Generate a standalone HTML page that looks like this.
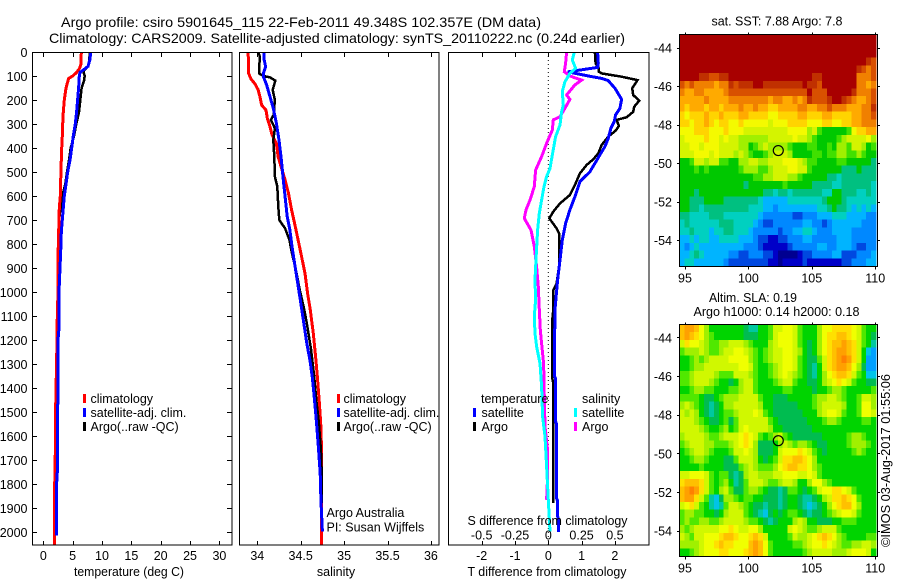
<!DOCTYPE html>
<html>
<head>
<meta charset="utf-8">
<title>Argo profile</title>
<style>
html,body{margin:0;padding:0;background:#fff;}
svg{display:block;}
text{font-family:"Liberation Sans",sans-serif;font-size:12.5px;fill:#000;}
.t14{font-size:14px;}
</style>
</head>
<body>
<svg id="chart" xmlns="http://www.w3.org/2000/svg" width="900" height="580" viewBox="0 0 900 580">
<rect x="0" y="0" width="900" height="580" fill="#fff"/>
<defs>
<clipPath id="clipT"><rect x="32" y="52" width="200" height="493"/></clipPath>
<clipPath id="clipS"><rect x="239" y="52" width="200" height="493"/></clipPath>
<clipPath id="clipD"><rect x="449" y="52" width="200" height="493"/></clipPath>
</defs>
<g id="heat"></g>
<g id="marks"></g>
<g id="axes"></g>
<text class="t14" x="61" y="27" textLength="480" lengthAdjust="spacingAndGlyphs">Argo profile: csiro 5901645_115 22-Feb-2011 49.348S 102.357E (DM data)</text>
<text class="t14" x="49" y="43" textLength="576" lengthAdjust="spacingAndGlyphs">Climatology: CARS2009. Satellite-adjusted climatology: synTS_20110222.nc (0.24d earlier)</text>
<text x="74" y="576" textLength="110" lengthAdjust="spacingAndGlyphs">temperature (deg C)</text>
<text x="336" y="576" text-anchor="middle">salinity</text>
<text x="467.5" y="576" textLength="159" lengthAdjust="spacingAndGlyphs">T difference from climatology</text>
<text x="467.5" y="525" textLength="160" lengthAdjust="spacingAndGlyphs">S difference from climatology</text>

<g>
<rect x="83" y="394" width="3" height="9" fill="#f00"/>
<text x="90.5" y="403">climatology</text>
<rect x="83" y="408" width="3" height="9" fill="#00f"/>
<text x="90.5" y="417">satellite-adj. clim.</text>
<rect x="83" y="422" width="3" height="9" fill="#000"/>
<text x="90.5" y="431">Argo(..raw -QC)</text>
</g>
<g>
<rect x="337" y="394" width="3" height="9" fill="#f00"/>
<text x="343.5" y="403">climatology</text>
<rect x="337" y="408" width="3" height="9" fill="#00f"/>
<text x="343.5" y="417">satellite-adj. clim.</text>
<rect x="337" y="422" width="3" height="9" fill="#000"/>
<text x="343.5" y="431">Argo(..raw -QC)</text>
<text x="326.5" y="517">Argo Australia</text>
<text x="326.5" y="531.5">PI: Susan Wijffels</text>
</g>
<g>
<text x="481" y="403">temperature</text>
<rect x="473" y="408" width="3" height="9" fill="#00f"/>
<text x="481.5" y="417">satellite</text>
<rect x="473" y="422" width="3" height="9" fill="#000"/>
<text x="481.5" y="431">Argo</text>
<text x="582" y="403">salinity</text>
<rect x="574" y="408" width="3" height="9" fill="#0ff"/>
<text x="582" y="417">satellite</text>
<rect x="574" y="422" width="3" height="9" fill="#f0f"/>
<text x="582" y="431">Argo</text>
</g>
<text x="711.5" y="25.5" textLength="131" lengthAdjust="spacingAndGlyphs">sat. SST: 7.88 Argo: 7.8</text>
<text x="709" y="302" textLength="88" lengthAdjust="spacingAndGlyphs">Altim. SLA: 0.19</text>
<text x="693.5" y="316" textLength="166" lengthAdjust="spacingAndGlyphs">Argo h1000: 0.14 h2000: 0.18</text>
<text transform="translate(890,547) rotate(-90)" textLength="173" lengthAdjust="spacingAndGlyphs">©IMOS 03-Aug-2017 01:55:06</text>
</svg>
<script>
// ---- axis tick labels ----
const depthTicks = [0,100,200,300,400,500,600,700,800,900,1000,1100,1200,1300,1400,1500,1600,1700,1800,1900,2000];
const tempTicks = [0,5,10,15,20,25,30];
const salTicks = [34,34.5,35,35.5,36];
const tDiffTicks = [-2,-1,0,1,2];
const tDiffLabels = ['-2','-1','0','1','2'];
const sDiffLabels = ['-0.5','-0.25','0','0.25','0.5'];
const sDiffTicks = [-0.5,-0.25,0,0.25,0.5];
const lonTicks = [95,100,105,110];
const latTicks = [-44,-46,-48,-50,-52,-54];
const floatLon = [102.357];
const floatLat = [-49.348];

// ---- temperature profiles ----
const tempClimDepth = [0,50,70,85,100,110,130,150,200,250,300,350,400,500,600,650,700,800,900,1000,1100,1300,1400,1500,1650,1700,1850,2060];
const tempClimValues = [6.48,6.42,6.14,5.68,5.0,4.32,4.09,3.86,3.58,3.41,3.3,3.24,3.13,3.0,2.9,2.73,2.67,2.56,2.5,2.5,2.39,2.27,2.16,2.1,2.1,1.99,1.93,1.88];
const tempSatDepth = [0,30,60,75,85,100,150,200,250,300,350,400,450,500,550,600,650,700,750,800,900,1000,1150,1200,1450,1500,1750,1800,2015];
const tempSatValues = [8.07,7.95,7.61,6.82,6.25,6.14,6.02,5.85,5.68,5.45,5.11,4.83,4.55,4.15,3.86,3.58,3.41,3.24,3.07,3.01,2.84,2.67,2.67,2.5,2.5,2.39,2.39,2.27,2.27];
const tempArgoDepth = [0,40,60,80,100,120,150,200,250,300,350,400,450,500,550,600,650,700,725,800,900,1000,1100,1300,1400,1500,1800,1850,1880];
const tempArgoValues = [7.9,7.84,7.56,6.82,7.05,6.93,6.53,6.31,6.08,5.63,5.23,4.66,4.38,4.03,3.75,3.24,2.95,2.67,2.84,2.67,2.56,2.5,2.39,2.27,2.22,2.1,2.0,1.86,1.86];

// ---- salinity profiles ----
const salClimDepth = [0,33,89,114,131,158,186,221,242,276,304,346,381,436,485,533,589,658,714,783,853,922,1006,1072,1172,1283,1366,1464,1561,1658,2054];
const salClimValues = [33.89,33.9,33.9,33.93,33.97,34.01,34.03,34.05,34.1,34.115,34.14,34.17,34.22,34.24,34.28,34.32,34.36,34.395,34.43,34.47,34.51,34.55,34.58,34.61,34.645,34.675,34.695,34.715,34.733,34.74,34.74];
const salSatDepth = [0,33,61,89,103,137,186,235,297,367,436,533,603,686,742,811,881,950,1019,1116,1214,1283,1352,1436,1519,1630,1755,1866,1998];
const salSatValues = [34.08,34.08,34.096,34.07,34.07,34.107,34.146,34.184,34.22,34.25,34.273,34.3,34.32,34.345,34.376,34.4,34.43,34.46,34.49,34.53,34.57,34.606,34.633,34.656,34.676,34.7,34.725,34.733,34.75];
const salArgoDepth = [0,19,75,89,100,106,119,158,200,262,283,318,367,436,519,561,644,700,735,783,839,908,992,1072,1130,1241,1352,1450,1547,1658,1727,1880];
const salArgoValues = [34.01,34.03,34.02,34.02,34.07,34.146,34.207,34.177,34.203,34.188,34.157,34.203,34.184,34.196,34.203,34.23,34.242,34.253,34.32,34.37,34.4,34.445,34.49,34.54,34.57,34.62,34.656,34.68,34.71,34.733,34.74,34.74];

// ---- difference profiles ----
const dTSatDepth = [0,47,64,72,83,90,100,110,119,151,197,235,262,290,318,360,394,436,499,540,603,658,714,783,867,950,1072,1150,1160,1350,1360,1540,1550,1860,1870,1935,1945,2000];
const dTSatValues = [1.48,1.5,1.48,1.1,0.58,0.85,1.2,1.6,1.8,2.0,2.2,2.15,2.02,1.98,1.88,1.8,1.7,1.52,1.25,0.95,0.8,0.65,0.52,0.42,0.35,0.28,0.2,0.2,0.18,0.18,0.22,0.22,0.25,0.25,0.28,0.28,0.3,0.3];
const dTArgoDepth = [0,47,68,82,89,103,117,151,179,203,228,249,272,283,308,328,353,388,422,447,471,506,554,596,631,665,693,735,756,894,964,992,1072,1115,1360,1380,1880];
const dTArgoValues = [1.4,1.42,1.52,1.52,1.6,2.2,2.68,2.52,2.55,2.73,2.58,2.55,2.35,2.05,2.12,2.02,1.8,1.6,1.5,1.35,1.15,0.95,0.8,0.65,0.35,0.15,0.03,0.25,0.32,0.32,0.25,0.15,0.15,0.12,0.12,0.15,0.15];
const dSSatDepth = [0,33,68,89,124,165,221,249,304,353,429,485,519,561,617,672,742,839,950,1033,1102,1172,1227,1297,1394,1519,1602,1727,1866,1998];
const dSSatValues = [0.195,0.18,0.205,0.1625,0.125,0.105,0.1125,0.1,0.0875,0.055,0.03,0.0125,-0.0125,-0.0325,-0.05,-0.0675,-0.08,-0.09,-0.1,-0.095,-0.105,-0.1,-0.0875,-0.0625,-0.05,-0.0425,-0.025,-0.0125,0,0.0125];
const dSArgoDepth = [0,47,82,100,117,137,179,197,235,269,283,325,381,436,492,561,617,658,693,742,811,894,978,1072,1158,1214,1297,1436,1561,1658,1769,1866];
const dSArgoValues = [0.1375,0.13,0.12,0.1625,0.25,0.2,0.1375,0.1625,0.125,0.0875,0.0375,0.03,-0.0125,-0.05,-0.095,-0.105,-0.1375,-0.1675,-0.18,-0.13,-0.105,-0.0875,-0.075,-0.0675,-0.06,-0.05,-0.035,-0.03,-0.025,-0.005,-0.005,-0.0125];

// ---- map colour classes (index = base-36 digit in the rows below) ----
const sstPalette = ['#000090','#0000c8','#0048e0','#0088ff','#00b4ff','#00d0c0','#00c080','#00c800','#40e000','#a0f000','#d4f400','#f4fa00','#ffd400','#ffaa00','#f08000','#d85000','#c03000','#a80000'];
const slaPalette = ['#000090','#0000c8','#0048e0','#00a0ff','#00c4e8','#00c8a0','#00bc50','#00d400','#50e800','#a0f000','#d0f800','#f0ff00','#ffe000','#ffc000','#ffa000','#ff8000'];

// ---- satellite SST map rows (north to south, groups of ten columns) ----
const sstRows = [
"hhhhhhhhhh hhhhhhhhhh hhhhhhhhhh hhhhhhhhhh",
"hhhhhhhhhh hhhhhhhhhh hhhhhhhhhh hhhhhhhhhh",
"hhhhhhhhhh hhhhhhhhhh hhhhhhhhhh hhhhhhhhhh",
"hhhhhhhhhh hhhhhhhhhh hhhhhhhhhh hhhhhhhhgf",
"hhhhhhhhhh hhhhhhhhhh hhhhhhhhhh hhhhhhgfef",
"hhhhggffgg hhhhhhhhhh hhhhhhhggh hhhhhheeef",
"fefeeeedee gfggghhggg ggggghggfh hhhhhheede",
"eddeedddde ffffffffff ffffffhfff hhhhhgeeef",
"dddddedddd eeeeeeeede eddedegfff ghhgfeddef",
"dcdddcddcd ddeddeddcc ddddeeddee feeedddeeg",
"cbcccdccdc ccddccccbb ccccddcccd dccccddeef",
"ccbccdcbcc bbcbbbbbab bbccccbbbc cbbccddeee",
"bbbcccbbbc bbbaaaaaaa aabbbb9a87 77778bccdd",
"abbbbcbbab aa999999aa aaabaa9877 7789aaaab9",
"aabbabbbaa aa99789a99 9987778877 87998aa978",
"aaabbbabaa a9a987789a aa97777887 8899889877",
"778aa9aa88 7799aa99aa abbba98877 7788777776",
"7778787777 778999889a aabbaa8777 7776667666",
"7777777777 777778899a aa99877777 6656666666",
"7777777777 7776777777 7877777666 6556666665",
"7776777777 7777777665 6656666665 5776665565",
"7766677776 6666665444 4455555556 7776555555",
"7766566666 6666555443 4444444455 6766545454",
"6655556665 5555554333 3332233344 4555444433",
"5655555566 6555543223 3333344332 3444444333",
"5565554556 6555433333 2334455433 3444433333",
"4454554455 5544432211 2233344333 3344433333",
"4345444444 4443332111 1123333344 3344432233",
"4456544444 3322333221 0000122333 3442223334",
"4554444443 2222222211 0111121111 1112233344"
];

// ---- altimeter SLA map rows (north to south, groups of ten columns) ----
const slaRows = [
"deedb97777 777655778a abba87779b bccccba877",
"dedcb98777 777666778a bbba87779b ccddcba876",
"acbba98899 aaa987779a bbba87679b cddedca875",
"8999a9889a abba98789a abba97679b cdeedca743",
"778989aaaa bbbb98789a abba87668a cdefeca733",
"77899aaaaa aabba87789 abba87657a cdeedb9633",
"889aaaa988 8aaa987789 aba9876579 bcddca8744",
"889aaa9877 679aa87778 9aa8776679 abcba87766",
"7789988777 889aa87777 7887777677 8998777778",
"8888766789 99aaaa8776 6677777899 aa98778aa9",
"9a98765679 9aaaaa9776 666677789a aaa9778bb9",
"a9a9765678 89aaaba876 666667779a bba8778bba",
"aaa9876678 68aaaaaa87 6666667778 9987777887",
"aaaa987789 78abaaaa97 7666666777 7777777777",
"9aaaa9889a aabcba8789 a876666667 7777899877",
"89aaa99888 9abcb96667 9a98998766 7777899987",
"789aa98777 8aaba96667 abbbcba876 7777789877",
"7789987776 68aaa97678 accddcb977 7777777777",
"7777877776 6689a98889 bcddccb987 7777777777",
"aabbba8788 6569aa999a abbbaaba87 7777777777",
"cdddca8789 7568aaa988 9aa9779bb9 8777777777",
"defeca879a 8668998766 56887678ab bccba87777",
"deeca85469 9878877666 5677655679 accdcb8777",
"abca875458 aa98766566 5677654567 9bcddb9777",
"8998877679 aaa8765467 6788765667 89abba8777",
"898899889a aaa9887656 7779a97766 6778887777",
"989aaaaabb cbaabb9777 77aba9889a aa87777777",
"a98aabbbcd dcbbcdca77 778a99abcd cb98777788",
"9999abbcdc cbbbdedb87 777889abbc ba98899aa9",
"7789abbbcc bbbcdedb87 7777789aaa a999abbba7"
];

const SVGNS = 'http://www.w3.org/2000/svg';
const heat = document.getElementById('heat');
const marks = document.getElementById('marks');
const axes = document.getElementById('axes');

function make(tag, attrs, parent){
  const el = document.createElementNS(SVGNS, tag);
  for (const k in attrs) el.setAttribute(k, attrs[k]);
  parent.appendChild(el);
  return el;
}

// axis scales
const yDepth = d => 52 + 0.24 * d;
const xTemp = v => 43.3 + 5.87 * v;
const xSal = v => 257.3 + 86.8 * (v - 34);
const xDT = v => 548.3 + 33.3 * v;
const xDS = v => 548.3 + 133.2 * v;
const xLon = v => 685 + 12.68 * (v - 95);
const yLat1 = v => 47.7 + 19.23 * (-44 - v);
const yLat2 = v => 337.3 + 19.33 * (-44 - v);

function drawProfile(name, depths, values, xFn, color, width, clip){
  const pts = depths.map((d, i) => xFn(values[i]).toFixed(1) + ',' + yDepth(d).toFixed(1)).join(' ');
  const line = make('polyline', {points: pts, fill: 'none', stroke: color, 'stroke-width': width, 'shape-rendering': 'crispEdges', 'clip-path': 'url(#' + clip + ')'}, marks);
  
  
}

drawProfile('temperature-argo-line', tempArgoDepth, tempArgoValues, xTemp, '#000', 2.5, 'clipT');
drawProfile('temperature-climatology-line', tempClimDepth, tempClimValues, xTemp, '#f00', 3, 'clipT');
drawProfile('temperature-satellite-line', tempSatDepth, tempSatValues, xTemp, '#00f', 3, 'clipT');

drawProfile('salinity-climatology-line', salClimDepth, salClimValues, xSal, '#f00', 3, 'clipS');
drawProfile('salinity-argo-line', salArgoDepth, salArgoValues, xSal, '#000', 2.5, 'clipS');
drawProfile('salinity-satellite-line', salSatDepth, salSatValues, xSal, '#00f', 3, 'clipS');

const zeroLine = make('line', {x1: xDT(0), x2: xDT(0), y1: 52, y2: 545, stroke: '#000', 'stroke-width': 1, 'stroke-dasharray': '1 3'}, marks);



drawProfile('t-difference-argo-line', dTArgoDepth, dTArgoValues, xDT, '#000', 2.5, 'clipD');
drawProfile('t-difference-satellite-line', dTSatDepth, dTSatValues, xDT, '#00f', 3, 'clipD');
drawProfile('s-difference-argo-line', dSArgoDepth, dSArgoValues, xDS, '#f0f', 3, 'clipD');
drawProfile('s-difference-satellite-line', dSSatDepth, dSSatValues, xDS, '#0ff', 3, 'clipD');

// heatmaps
function drawMap(name, rows, palette, top, height){
  const left = 679.5, w = 196.5;
  const rh = height / rows.length;
  rows.forEach((raw, r) => {
    const row = raw.replace(/ /g, '');
    const cols = 40;
    const cw = w / cols;
    for (let c = 0; c < cols; c++) {
      const ch = row[Math.min(c, row.length - 1)];
      const cell = make('rect', {
        x: (left + c * cw).toFixed(2),
        y: (top + r * rh).toFixed(2),
        width: (cw + 0.3).toFixed(2),
        height: (rh + 0.3).toFixed(2),
        fill: palette[parseInt(ch, 36)],
        'shape-rendering': 'crispEdges'
      }, heat);
      
      
    }
  });
}
drawMap('sst-map', sstRows, sstPalette, 34.5, 231.5);
drawMap('sla-map', slaRows, slaPalette, 324.5, 231.5);

// axes helpers
function tick(x1, y1, x2, y2, name){
  const t = make('line', {x1, y1, x2, y2, stroke: '#000', 'stroke-width': 1, 'shape-rendering': 'crispEdges'}, axes);
  
  
}
function label(x, y, str, anchor, name){
  const t = make('text', {x, y, 'text-anchor': anchor}, axes);
  t.textContent = str;
  
  
}
function frame(x, y, w, h, name){
  const f = make('rect', {x, y, width: w, height: h, fill: 'none', stroke: '#000', 'stroke-width': 1, 'shape-rendering': 'crispEdges'}, axes);
  
  
}

// panel frames
frame(32.5, 52.5, 199.5, 492.5, 'temperature-plot-frame');
frame(239.5, 52.5, 199.5, 492.5, 'salinity-plot-frame');
frame(448.5, 52.5, 200.5, 492.5, 'difference-plot-frame');

// temperature panel ticks
depthTicks.forEach(d => {
  const y = Math.round(yDepth(d)) + 0.5;
  tick(32, y, 37, y, 'depth-tick-left');
  tick(227, y, 232, y, 'depth-tick-right');
  label(27.5, yDepth(d) + 5, String(d), 'end', 'depth-tick-label');
});
tempTicks.forEach(v => {
  const x = Math.round(xTemp(v)) + 0.5;
  tick(x, 52, x, 57, 'temperature-tick-top');
  tick(x, 541, x, 545, 'temperature-tick-bottom');
  label(xTemp(v), 560, String(v), 'middle', 'temperature-tick-label');
});
salTicks.forEach(v => {
  const x = Math.round(xSal(v)) + 0.5;
  tick(x, 52, x, 57, 'salinity-tick-top');
  tick(x, 541, x, 545, 'salinity-tick-bottom');
  label(xSal(v), 560, String(v), 'middle', 'salinity-tick-label');
});
tDiffTicks.forEach((v, i) => {
  const x = Math.round(xDT(v)) + 0.5;
  tick(x, 52, x, 57, 'temperature-difference-tick-top');
  tick(x, 541, x, 545, 'temperature-difference-tick-bottom');
  label(xDT(v), 560, tDiffLabels[i], 'middle', 'temperature-difference-tick-label');
});
sDiffTicks.forEach((v, i) => {
  label(xDS(v), 539.5, sDiffLabels[i], 'middle', 'salinity-difference-tick-label');
});

// map frames, ticks, labels and float markers
function mapAxes(prefix, top, bottom, yFn){
  frame(679.5, top, 198, bottom - top, prefix + '-frame');
  lonTicks.forEach(v => {
    const x = Math.round(xLon(v)) + 0.5;
    tick(x, top - 2, x, top, prefix + '-lon-tick-top');
    tick(x, bottom, x, bottom + 3, prefix + '-lon-tick-bottom');
    label(xLon(v), bottom + 16, String(v), 'middle', prefix + '-lon-tick-label');
  });
  latTicks.forEach(v => {
    const y = Math.round(yFn(v)) + 0.5;
    tick(677, y, 680, y, prefix + '-lat-tick-left');
    tick(878, y, 880, y, prefix + '-lat-tick-right');
    label(672, yFn(v) + 5, String(v), 'end', prefix + '-lat-tick-label');
  });
  const c = make('circle', {cx: xLon(floatLon[0]), cy: yFn(floatLat[0]), r: 5, fill: 'none', stroke: '#000', 'stroke-width': 1.2}, axes);
  
  
}
mapAxes('sst-map', 34.5, 266.5, yLat1);
mapAxes('sla-map', 324.5, 556.5, yLat2);
</script>
</body>
</html>
